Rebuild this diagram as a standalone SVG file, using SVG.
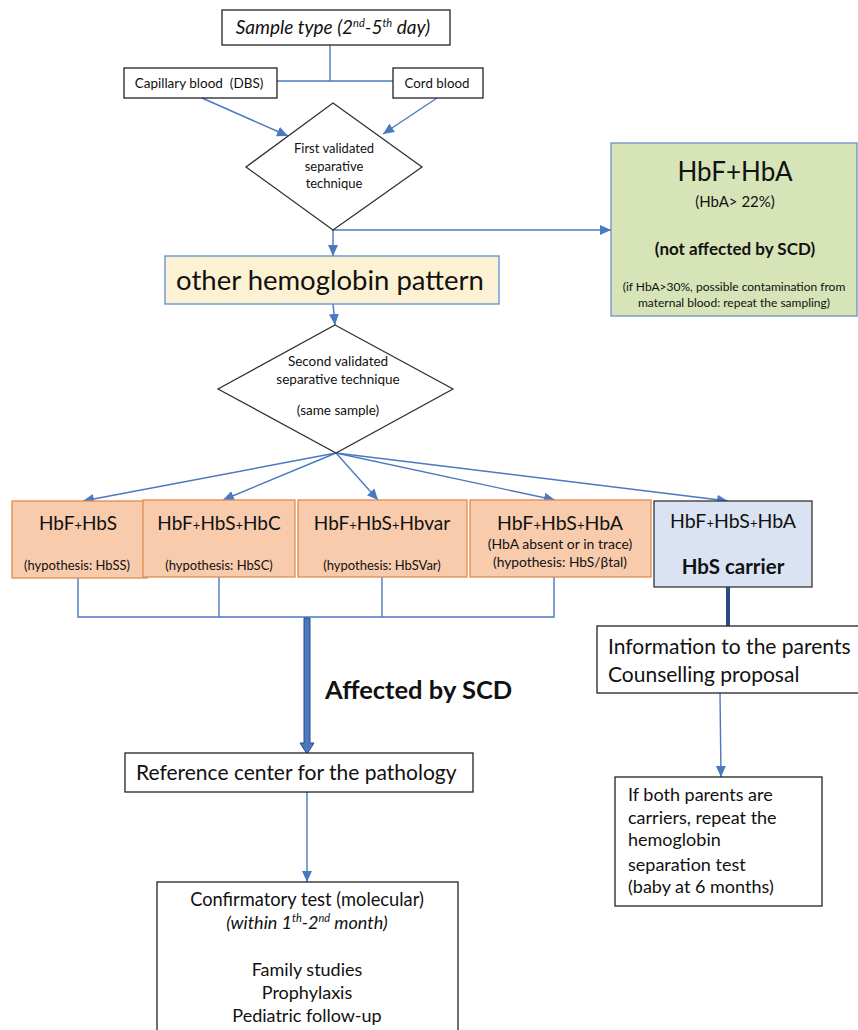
<svg xmlns="http://www.w3.org/2000/svg" width="858" height="1030" viewBox="0 0 858 1030">
<style>
text{font-family:Lato,"Open Sans","Liberation Sans",sans-serif;fill:#111}
.box{fill:#fff;stroke:#222;stroke-width:1.3}
.orange{fill:#f8cbad;stroke:#e08a4c;stroke-width:1.3}
.con{fill:none;stroke:#4a78c2;stroke-width:1.4}
.dia{fill:#fff;stroke:#333;stroke-width:1.3}
.c{text-anchor:middle}
</style>
<defs>
<marker id="ah" markerUnits="userSpaceOnUse" markerWidth="12" markerHeight="12" viewBox="0 0 12 12" refX="11" refY="6" orient="auto">
<path d="M0,1 L11,6 L0,11 Z" fill="#4a78c2"/>
</marker>
</defs>
<g id="connectors">
<line class="con" x1="330" y1="45" x2="330" y2="81"/>
<line class="con" x1="277" y1="81" x2="393" y2="81"/>
<line class="con" x1="202" y1="98" x2="288" y2="136" marker-end="url(#ah)"/>
<line class="con" x1="437" y1="98" x2="383" y2="134" marker-end="url(#ah)"/>
<line class="con" x1="333" y1="230" x2="333" y2="256" marker-end="url(#ah)"/>
<line class="con" x1="333" y1="230" x2="611" y2="230" marker-end="url(#ah)"/>
<line class="con" x1="333" y1="304" x2="335" y2="325" marker-end="url(#ah)"/>
<line class="con" x1="336" y1="453" x2="83" y2="501" marker-end="url(#ah)"/>
<line class="con" x1="336" y1="453" x2="223" y2="500" marker-end="url(#ah)"/>
<line class="con" x1="336" y1="453" x2="378" y2="500" marker-end="url(#ah)"/>
<line class="con" x1="336" y1="453" x2="555" y2="500" marker-end="url(#ah)"/>
<line class="con" x1="336" y1="453" x2="728" y2="501" marker-end="url(#ah)"/>
<polyline class="con" points="78,578 78,617 554,617 554,577"/>
<line class="con" x1="219" y1="577" x2="219" y2="617"/>
<line class="con" x1="382" y1="577" x2="382" y2="617"/>
<path d="M304,618 L310,618 L310,743 L314,743 L307,754 L300,743 L304,743 Z" fill="#4a78c2" stroke="#2b4a86" stroke-width="1"/>
<line x1="728" y1="587" x2="728" y2="626" stroke="#2b4a86" stroke-width="4"/>
<line class="con" x1="720" y1="693" x2="721" y2="777" marker-end="url(#ah)"/>
<line class="con" x1="307" y1="792" x2="307" y2="882" marker-end="url(#ah)"/>
</g>
<g id="sample-type">
<rect class="box" x="222" y="10" width="228" height="35"/>
<text class="c" x="333" y="34" font-size="19" font-style="italic">Sample type (2<tspan font-size="11" dy="-7">nd</tspan><tspan dy="7">-5</tspan><tspan font-size="11" dy="-7">th</tspan><tspan dy="7"> day)</tspan></text>
</g>
<g id="capillary">
<rect class="box" x="124" y="68" width="153" height="30"/>
<text class="c" x="199" y="88" font-size="13.5">Capillary blood &#160;(DBS)</text>
</g>
<g id="cord">
<rect class="box" x="393" y="68" width="90" height="30"/>
<text class="c" x="437" y="88" font-size="13.3">Cord blood</text>
</g>
<g id="diamond1">
<polygon class="dia" points="333,103 422,167 333,230 246,167"/>
<text class="c" x="334" y="153" font-size="13">First validated</text>
<text class="c" x="334" y="171" font-size="13">separative</text>
<text class="c" x="334" y="188" font-size="13">technique</text>
</g>
<g id="other-pattern">
<rect x="165" y="256" width="334" height="48" fill="#fdf1d3" stroke="#5b8fd0" stroke-width="1.3"/>
<text class="c" x="330" y="290" font-size="27.5">other hemoglobin pattern</text>
</g>
<g id="hbf-hba">
<rect x="611" y="143" width="246" height="173" fill="#d6e4b8" stroke="#6a8fc8" stroke-width="1.3"/>
<text class="c" x="735" y="181" font-size="26">HbF+HbA</text>
<text class="c" x="735" y="207" font-size="15">(HbA&gt; 22%)</text>
<text class="c" x="735" y="255" font-size="17" font-weight="bold">(not affected by SCD)</text>
<text class="c" x="734" y="291" font-size="12">(if HbA&gt;30%, possible contamination from</text>
<text class="c" x="734" y="307" font-size="12">maternal blood: repeat the sampling)</text>
</g>
<g id="diamond2">
<polygon class="dia" points="335,325 453,389 336,453 218,389"/>
<text class="c" x="338" y="366" font-size="13.5">Second validated</text>
<text class="c" x="338" y="384" font-size="13.5">separative technique</text>
<text class="c" x="338" y="415" font-size="13.5">(same sample)</text>
</g>
<g id="hbss">
<rect class="orange" x="12" y="501" width="135" height="77"/>
<text class="c" x="78" y="530" font-size="19">HbF<tspan font-size="13">+</tspan>HbS</text>
<text class="c" x="77" y="570" font-size="13">(hypothesis: HbSS)</text>
</g>
<g id="hbsc">
<rect class="orange" x="143" y="500" width="152" height="77"/>
<text class="c" x="219" y="530" font-size="19">HbF<tspan font-size="13">+</tspan>HbS<tspan font-size="13">+</tspan>HbC</text>
<text class="c" x="219" y="570" font-size="13">(hypothesis: HbSC)</text>
</g>
<g id="hbsvar">
<rect class="orange" x="298" y="500" width="169" height="77"/>
<text class="c" x="382" y="530" font-size="19">HbF<tspan font-size="13">+</tspan>HbS<tspan font-size="13">+</tspan>Hbvar</text>
<text class="c" x="382" y="570" font-size="13">(hypothesis: HbSVar)</text>
</g>
<g id="hbs-btal">
<rect class="orange" x="470" y="500" width="181" height="77"/>
<text class="c" x="560" y="530" font-size="19.5">HbF<tspan font-size="13">+</tspan>HbS<tspan font-size="13">+</tspan>HbA</text>
<text class="c" x="560" y="549" font-size="14">(HbA absent or in trace)</text>
<text class="c" x="560" y="567" font-size="13.8">(hypothesis: HbS/βtal)</text>
</g>
<g id="hbs-carrier">
<rect x="654" y="501" width="158" height="86" fill="#dae3f3" stroke="#333" stroke-width="1.3"/>
<text class="c" x="733" y="528" font-size="19.5">HbF<tspan font-size="13">+</tspan>HbS<tspan font-size="13">+</tspan>HbA</text>
<text class="c" x="733" y="574" font-size="20.5" font-weight="bold">HbS carrier</text>
</g>
<g id="affected-label">
<text x="325" y="699" font-size="25.5" font-weight="bold">Affected by SCD</text>
</g>
<g id="information">
<rect class="box" x="597" y="626" width="262" height="67"/>
<text x="608" y="654" font-size="21">Information to the parents</text>
<text x="608" y="682" font-size="21">Counselling proposal</text>
</g>
<g id="repeat-test">
<rect class="box" x="615" y="777" width="207" height="129"/>
<text x="628" y="801" font-size="18">If both parents are</text>
<text x="628" y="824" font-size="18">carriers, repeat the</text>
<text x="628" y="846" font-size="18">hemoglobin</text>
<text x="628" y="871" font-size="18">separation test</text>
<text x="628" y="893" font-size="18">(baby at 6 months)</text>
</g>
<g id="reference-center">
<rect class="box" x="125" y="753" width="348" height="39"/>
<text x="136" y="780" font-size="21">Reference center for the pathology</text>
</g>
<g id="confirmatory">
<rect class="box" x="157" y="882" width="301" height="160"/>
<text class="c" x="307" y="906" font-size="18.3">Confirmatory test (molecular)</text>
<text class="c" x="307" y="929" font-size="18" font-style="italic">(within 1<tspan font-size="11" dy="-7">th</tspan><tspan dy="7">-2</tspan><tspan font-size="11" dy="-7">nd</tspan><tspan dy="7"> month)</tspan></text>
<text class="c" x="307" y="976" font-size="18">Family studies</text>
<text class="c" x="307" y="999" font-size="18">Prophylaxis</text>
<text class="c" x="307" y="1022" font-size="18">Pediatric follow-up</text>
</g>
</svg>
